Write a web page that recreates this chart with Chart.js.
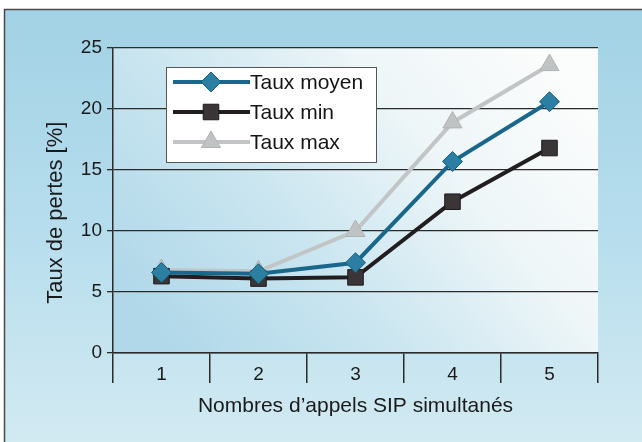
<!DOCTYPE html>
<html>
<head>
<meta charset="utf-8">
<script src="https://cdn.jsdelivr.net/npm/chart.js@4.4.0/dist/chart.umd.min.js"></script>
<style>
    html, body { margin: 0; padding: 0; background: #fff; }
    #wrap { width: 642px; height: 442px; position: relative; }
</style>
</head>
<body>
<div id="wrap"><canvas id="lossChart" width="642" height="442"></canvas></div>
<script>
const categories = ['1', '2', '3', '4', '5'];
const tauxMoyen = [6.6, 6.5, 7.4, 15.7, 20.6];
const tauxMin = [6.3, 6.1, 6.2, 12.4, 16.8];
const tauxMax = [6.8, 6.7, 10.0, 18.9, 23.6];
const yTicks = [0, 5, 10, 15, 20, 25];

const fontFamily = '"Liberation Sans", Arial, Helvetica, sans-serif';

// fond bleu, cadre et degrade de la zone du graphique
const backgroundPlugin = {
    id: 'background',
    beforeDraw(chart) {
        const ctx = chart.ctx;
        const area = chart.chartArea;
        ctx.save();
        ctx.fillStyle = '#ffffff';
        ctx.fillRect(0, 0, chart.width, chart.height);

        const outer = ctx.createLinearGradient(0, 9, 0, chart.height);
        outer.addColorStop(0, '#a2d2e5');
        outer.addColorStop(0.5, '#b6dded');
        outer.addColorStop(1, '#d2eaf2');
        ctx.fillStyle = outer;
        ctx.fillRect(4, 9, chart.width - 4, chart.height - 9);

        ctx.strokeStyle = '#4a4a4a';
        ctx.lineWidth = 1.5;
        ctx.beginPath();
        ctx.moveTo(4.5, chart.height);
        ctx.lineTo(4.5, 9.5);
        ctx.lineTo(chart.width, 9.5);
        ctx.stroke();

        const inner = ctx.createLinearGradient(area.right - 60, area.top, area.left + 60, area.bottom);
        inner.addColorStop(0, '#fbfcfc');
        inner.addColorStop(0.3, '#eef6f8');
        inner.addColorStop(0.65, '#c9e5f0');
        inner.addColorStop(1, '#b0d8e9');
        ctx.fillStyle = inner;
        ctx.fillRect(area.left, area.top, area.right - area.left, area.bottom - area.top);
        ctx.restore();
    }
};

// legende dans un cadre blanc, trait + marqueur comme dans l'original
const boxLegendPlugin = {
    id: 'boxLegend',
    afterDraw(chart) {
        const ctx = chart.ctx;
        const area = chart.chartArea;
        const x0 = area.left + 53;
        const y0 = area.top + 19;
        const w = 210;
        const h = 95;
        ctx.save();
        ctx.fillStyle = '#ffffff';
        ctx.fillRect(x0, y0, w, h);
        ctx.strokeStyle = '#555';
        ctx.lineWidth = 1;
        ctx.strokeRect(x0 + 0.5, y0 + 0.5, w, h);

        chart.data.datasets.forEach((ds, i) => {
            const y = y0 + 15 + i * 30;
            ctx.strokeStyle = ds.borderColor;
            ctx.lineWidth = ds.borderWidth;
            ctx.beginPath();
            ctx.moveTo(x0 + 7, y);
            ctx.lineTo(x0 + 84, y);
            ctx.stroke();
            ctx.fillStyle = ds.pointBackgroundColor;
            ctx.strokeStyle = ds.pointBorderColor;
            ctx.lineWidth = 1;
            Chart.helpers.drawPoint(ctx, {
                pointStyle: ds.pointStyle,
                radius: ds.pointRadius,
                borderWidth: 1,
                rotation: 0
            }, x0 + 45, y);
            ctx.fillStyle = '#151515';
            ctx.font = '21px ' + fontFamily;
            ctx.textBaseline = 'middle';
            ctx.fillText(ds.label, x0 + 84, y + 1);
        });
        ctx.restore();
    }
};

const ctx = document.getElementById('lossChart');

new Chart(ctx, {
    type: 'line',
    data: {
        labels: categories,
        datasets: [{
            label: 'Taux moyen',
            data: tauxMoyen,
            borderColor: '#19678a',
            borderWidth: 4,
            pointStyle: 'rectRot',
            pointRadius: 10,
            pointBackgroundColor: '#2a7fa3',
            pointBorderColor: '#1a5f7e',
            pointBorderWidth: 1
        }, {
            label: 'Taux min',
            data: tauxMin,
            borderColor: '#221e1f',
            borderWidth: 4,
            pointStyle: 'rect',
            pointRadius: 11,
            pointBackgroundColor: '#3a3536',
            pointBorderColor: '#1e1a1b',
            pointBorderWidth: 1
        }, {
            label: 'Taux max',
            data: tauxMax,
            borderColor: '#c2c5c5',
            borderWidth: 4,
            pointStyle: 'triangle',
            pointRadius: 11,
            pointBackgroundColor: '#c0c3c3',
            pointBorderColor: '#b0b4b4',
            pointBorderWidth: 1
        }]
    },
    options: {
        responsive: false,
        animation: false,
        events: [],
        layout: {
            padding: { top: 48, right: 44, left: 0, bottom: 0 }
        },
        plugins: {
            legend: { display: false },
            tooltip: { enabled: false }
        },
        scales: {
            x: {
                offset: true,
                afterFit: function (scale) { scale.height = 89; },
                grid: {
                    offset: true,
                    drawOnChartArea: false,
                    tickLength: 30,
                    color: '#2b2b2b',
                    lineWidth: 1.5
                },
                border: { display: true, color: '#2b2b2b', width: 1.5 },
                ticks: {
                    color: '#1a1a1a',
                    padding: -20,
                    font: { family: fontFamily, size: 19 }
                },
                title: {
                    display: true,
                    text: 'Nombres d\u2019appels SIP simultanés',
                    color: '#1a1a1a',
                    font: { family: fontFamily, size: 21 },
                    padding: { top: 0, bottom: 23 }
                }
            },
            y: {
                min: 0,
                max: 25,
                afterFit: function (scale) { scale.width = 113; },
                afterBuildTicks: function (scale) {
                    scale.ticks = yTicks.map(v => ({ value: v }));
                },
                grid: {
                    color: '#2b2b2b',
                    lineWidth: 1.3,
                    tickLength: 6
                },
                border: { display: true, color: '#2b2b2b', width: 1.5 },
                ticks: {
                    color: '#1a1a1a',
                    padding: 5,
                    font: { family: fontFamily, size: 19 }
                },
                title: {
                    display: true,
                    // espaces insecables : le titre est un peu plus bas que le centre dans l'original
                    text: 'Taux de pertes [%]\u00a0\u00a0\u00a0\u00a0',
                    color: '#1a1a1a',
                    font: { family: fontFamily, size: 22 },
                    padding: { top: 43, bottom: 0 }
                }
            }
        }
    },
    plugins: [backgroundPlugin, boxLegendPlugin]
});
</script>
</body>
</html>
